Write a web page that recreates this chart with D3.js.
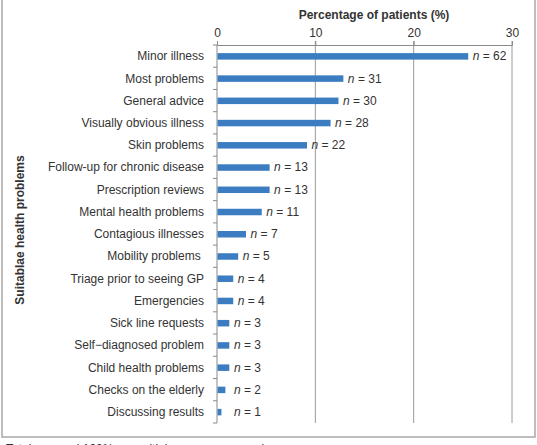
<!DOCTYPE html>
<html><head><meta charset="utf-8">
<script src="https://cdn.jsdelivr.net/npm/d3@7"></script>
<style>body{margin:0;background:#fff}svg{display:block}</style>
</head><body>
<svg id="c" width="537" height="445"></svg>
<script>
const categories = ["Minor illness","Most problems","General advice","Visually obvious illness","Skin problems","Follow-up for chronic disease","Prescription reviews","Mental health problems","Contagious illnesses","Mobility problems\u00a0","Triage prior to seeing GP","Emergencies","Sick line requests","Self\u2212diagnosed problem","Child health problems","Checks on the elderly","Discussing results"];
const percentages = [25.5,12.8,12.3,11.5,9.1,5.3,5.3,4.5,2.9,2.1,1.6,1.6,1.2,1.2,1.2,0.8,0.4];
const counts = [62,31,30,28,22,13,13,11,7,5,4,4,3,3,3,2,1];
const xTicks = [0,10,20,30];

const svg = d3.select("#c");
const font = "Liberation Sans, Arial, sans-serif";
const x = d3.scaleLinear().domain([0,30]).range([217,512]);
const yb = d3.scaleBand().domain(categories).range([45,423]);

// frame
svg.append("rect").attr("x",2).attr("y",-2).attr("width",533).attr("height",439)
  .attr("fill","none").attr("stroke","#a8a8a8").attr("stroke-width",1.5);

// gridlines
svg.append("g").selectAll("line").data(xTicks.slice(1)).join("line")
  .attr("x1",d=>x(d)).attr("x2",d=>x(d)).attr("y1",41).attr("y2",423)
  .attr("stroke","#9a9a9a").attr("stroke-width",1);

// top axis
const xa = svg.append("g").attr("transform","translate(0,45)")
  .call(d3.axisTop(x).tickValues(xTicks).tickSize(4).tickPadding(4));
xa.select(".domain").attr("stroke","#8a8a8a");
xa.selectAll(".tick line").attr("stroke","#8a8a8a");
xa.selectAll("text").attr("font-family",font).attr("font-size",12).attr("fill","#333");

// left axis line and ticks at band boundaries
svg.append("line").attr("x1",217).attr("x2",217).attr("y1",45).attr("y2",423).attr("stroke","#8a8a8a");
const bounds = categories.map(c=>yb(c)).concat([423]);
svg.append("g").selectAll("line").data(bounds).join("line")
  .attr("x1",213).attr("x2",217).attr("y1",d=>d).attr("y2",d=>d).attr("stroke","#8a8a8a");

// category labels
svg.append("g").selectAll("text").data(categories).join("text")
  .attr("x",204).attr("y",d=>yb(d)+yb.bandwidth()/2).attr("dy","0.35em")
  .attr("text-anchor","end").attr("font-family",font).attr("font-size",12).attr("fill","#333")
  .style("white-space","pre").text(d=>d);

// bars
svg.append("g").selectAll("rect").data(categories).join("rect")
  .attr("x",x(0)+0.5).attr("y",(d)=>yb(d)+yb.bandwidth()/2-3)
  .attr("width",(d,i)=>x(percentages[i])-x(0)).attr("height",6.5)
  .attr("fill","#3b7dc0");

// value labels
const vl = svg.append("g").selectAll("text").data(categories).join("text")
  .attr("x",(d,i)=>Math.max(x(percentages[i])+5,234))
  .attr("y",d=>yb(d)+yb.bandwidth()/2).attr("dy","0.35em")
  .attr("font-family",font).attr("font-size",12).attr("fill","#333");
vl.append("tspan").attr("font-style","italic").text("n");
vl.append("tspan").text((d,i)=>" = "+counts[i]);

// axis titles
svg.append("text").attr("x",374).attr("y",19).attr("text-anchor","middle")
  .attr("font-family",font).attr("font-size",12).attr("font-weight","bold").attr("fill","#333")
  .text("Percentage of patients (%)");
svg.append("text").attr("transform","translate(24,230) rotate(-90)").attr("text-anchor","middle")
  .attr("font-family",font).attr("font-size",12).attr("font-weight","bold").attr("fill","#333")
  .text("Suitablae health problems");

// cropped caption (cut off at the bottom edge, as in the reference)
svg.append("text").attr("x",6).attr("y",453)
  .attr("font-family",font).attr("font-size",12).attr("fill","#333")
  .text("Totals exceed 100% as multiple answers were given");
</script>
</body></html>
